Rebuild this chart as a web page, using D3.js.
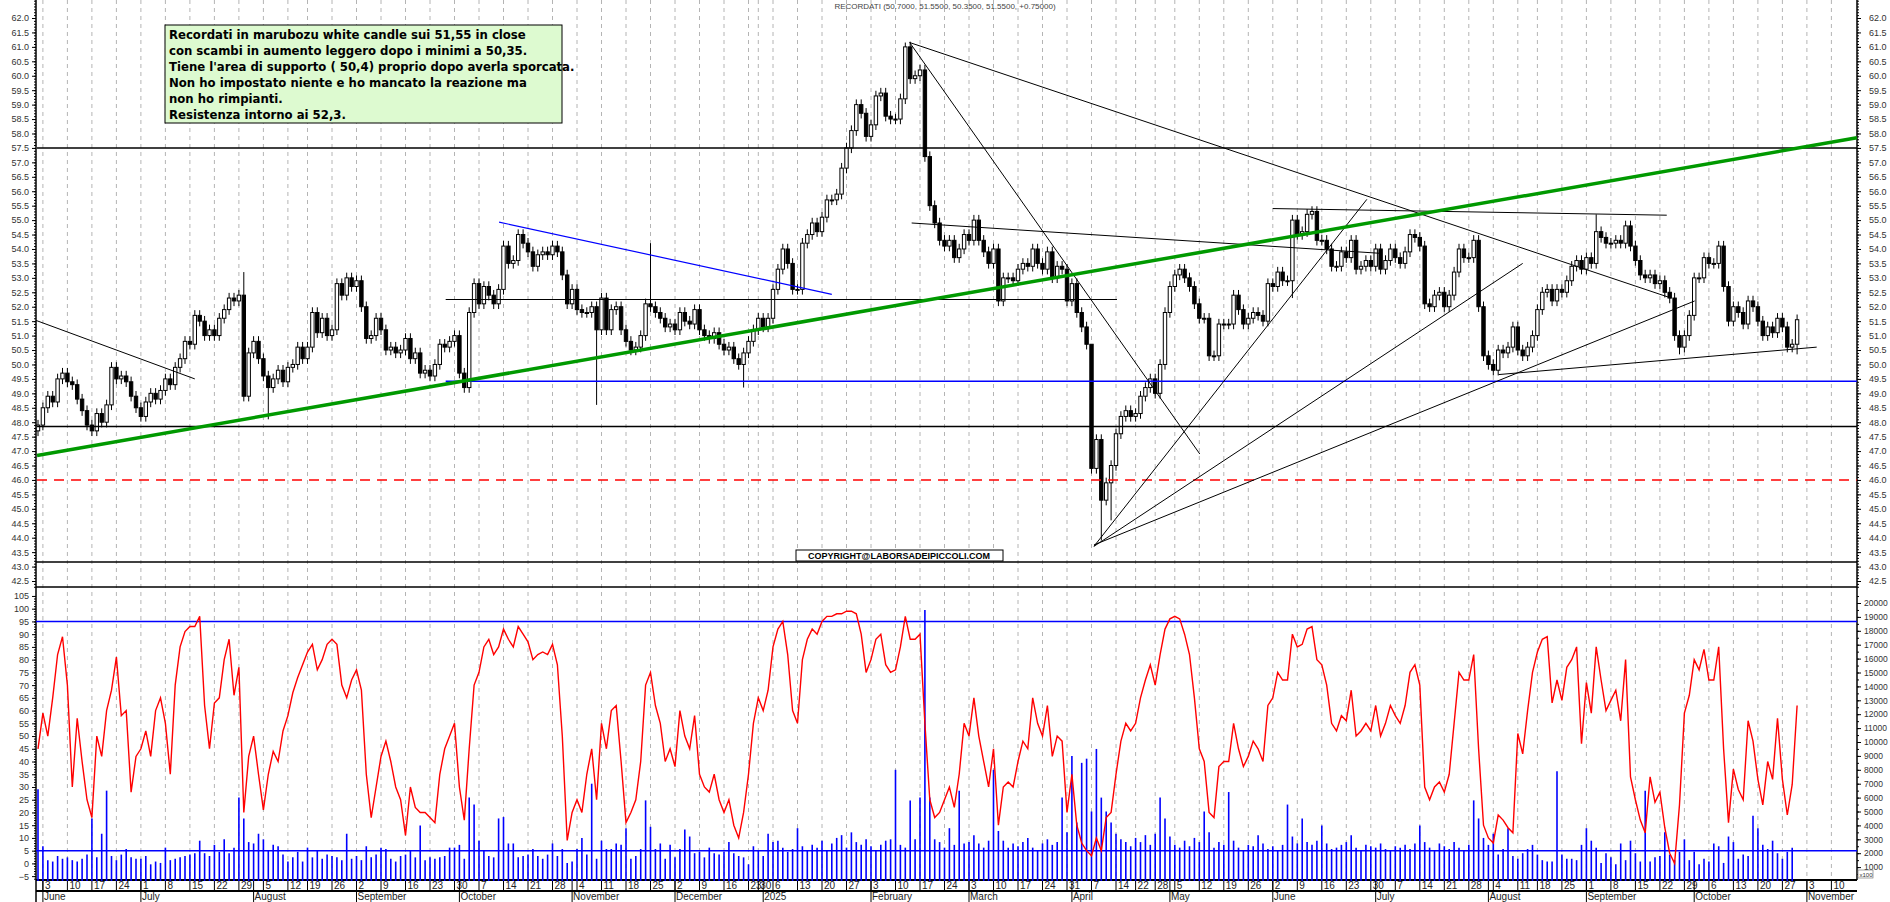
<!DOCTYPE html>
<html><head><meta charset="utf-8">
<script src="https://cdn.jsdelivr.net/npm/d3@7"></script>
<style>body{margin:0;background:#fff}svg{display:block}</style>
</head><body><svg id="c" width="1890" height="902"></svg>
<script>
// ---------- DATA ----------
const firstDate = "2024-05-31", lastAxisDate = "2025-11-14";
const holidays = ["2024-08-15","2024-12-24","2024-12-25","2024-12-26","2024-12-31","2025-01-01","2025-04-18","2025-04-21","2025-05-01","2025-08-15"];
const closes = [47.9,
48.5,48.9,48.7,49.5,49.7, 49.4,49.3,48.8,48.4,47.9, 47.7,48.3,48.0,48.6,49.9, 49.5,49.6,49.4,48.9,48.5,
48.2,48.7,49.0,48.8,49.1, 49.5,49.3,49.9,50.2,50.8, 50.7,51.7,51.5,51.0,51.2, 51.0,51.6,51.9,52.3,52.2,
52.4,48.9,50.4,50.8,50.2, 49.6,49.2,49.5,49.8,49.4, 49.9,50.0,50.6,50.2,50.6, 51.8,51.1,51.6,51.0,51.2,
52.8,52.4,53.0,52.7,52.9, 52.0,50.9,51.0,51.6,51.2, 50.5,50.6,50.4,50.5,50.9, 50.2,50.4,49.7,49.8,49.6,
50.0,50.7,50.6,50.8,51.0, 49.7,49.2,51.8,52.8,52.1, 52.7,52.4,52.1,52.6,54.1, 53.5,53.6,54.5,54.2,53.9,
53.4,53.8,53.9,53.8,54.1, 53.9,53.1,52.1,52.6,51.9, 51.8,51.8,52.0,51.2,52.3, 51.2,51.9,52.0,51.2,50.8,
50.5,50.6,51.0,52.1,52.0, 51.8,51.6,51.3,51.4,51.2, 51.8,51.5,51.4,51.9,51.2, 51.0,50.9,51.1,50.7,50.5,
50.6,50.2,50.0,50.4,50.8, 51.2,51.6,51.3,51.6,52.6, 53.3,54.0,53.5,52.6,52.6, 54.2,54.5,54.9,54.6,55.1,
55.7,55.7,55.9,56.8,57.5, 58.1,59.0,58.7,57.9,58.3, 59.3,59.4,58.6,58.5,58.5, 59.2,61.0,59.9,60.0,60.2,
57.2,55.5,54.9,54.3,54.1, 54.3,53.7,54.0,54.5,54.3, 55.0,54.3,53.9,53.5,54.0, 52.2,53.0,53.0,52.9,53.3,
53.5,53.4,54.0,53.5,53.3, 53.9,53.0,53.4,53.3,52.2, 52.8,51.8,51.3,50.7,46.4, 47.4,45.3,45.9,46.5,47.6,
48.2,48.4,48.2,48.3,48.9, 49.2,49.5,49.0,50.0,51.8, 52.7,53.1,53.3,53.0,52.7, 52.1,51.6,51.6,50.3,50.3,
51.4,51.4,51.4,52.4,51.9, 51.4,51.6,51.8,51.7,51.5, 52.8,52.7,53.2,52.9,52.9, 55.0,54.5,54.6,55.2,55.3,
54.3,54.3,54.0,53.4,53.4, 53.9,53.7,54.3,53.3,53.4, 53.6,53.4,54.0,53.3,53.6, 54.0,53.7,53.5,53.9,54.5,
54.4,54.1,52.1,52.0,52.4, 52.5,52.0,52.4,53.2,54.0, 53.7,53.7,54.3,52.0,50.3, 50.0,49.8,50.5,50.4,50.6,
51.3,50.5,50.3,50.6,51.0, 51.9,52.5,52.6,52.2,52.6, 52.5,52.9,53.4,53.6,53.3, 53.7,53.5,54.6,54.4,54.2,
54.2,54.3,54.2,54.8,54.1, 53.6,53.1,53.0,53.1,52.8, 52.9,52.5,52.3,51.0,50.6, 51.0,51.7,53.0,53.0,53.7,
53.5,53.5,54.1,52.7,51.5, 52.0,51.8,51.4,52.2,52.0, 51.5,51.0,51.3,51.1,51.6, 51.3,50.6,50.7,51.55];
// long shadows: [bar index (0 = 3 June 2024), high, low]
const shadows = [[41,53.2,null],[46,null,48.1],[113,null,48.6],[124,54.2,null],[143,null,49.2],[176,61.15,null],
 [214,49.6,null],[216,null,43.9],[218,null,44.6],[255,null,52.3],[317,55.2,null],[334,null,50.35],[358,null,50.35]];
const stoch = [45,59,50,65,82,89,70,30,57,40,25,18,50,42,60,68,81,58,60,28,42,45,52,42,60,65,55,35,70,85,91,93,93,97,62,45,63,65,80,88,66,77,20,42,50,35,21,35,44,40,52,58,67,73,
78,83,86,76,80,86,88, 86,70,65,72,76,68,35, 18,30,42,48,40,30,25, 11,30,22,20,20,18,16, 35,45,50,55,30,17,
45,70,75,85,88,82,85, 92,88,85,93,90,87,80, 82,83,82,86,78,50, 9,20,25,20,35,45,25, 55,45,60,62,40,16,
20,25,40,70,75,62,55, 40,45,38,60,50,45,58, 35,30,28,35,25,20,25, 15,10,20,35,55,65, 60,68,85,92,95,82,60,
55,80,88,92,90,95,97, 97,98,98,99,99,98,90, 75,80,88,90,78,75,76, 85,97,88,88,90,55,25, 18,20,25,30,22,35,55,
50,65,50,40,30,45,15, 30,32,30,40,48,45,65, 55,50,62,42,50,48,20, 35,15,8,5,3,10,5, 18,20,35,48,55,52,55,
65,72,78,70,82,92,96, 97,96,90,82,65,45,40, 20,18,38,40,40,55,45, 38,42,48,45,40,62,65, 75,72,72,90,85,86,92,
93,80,78,70,55,52,58, 56,68,50,52,55,52,62, 50,55,62,58,55,62,75, 78,70,30,25,30,32,28, 35,55,75,72,72,82,45,
15,10,8, 19,17,14,12,51,43,60,75,83,88,89,63,72,64,77,80,85,47,71,59,85,72,60,64,68,56,80,34,25,17,12,34,24,28,14,4,0,
23,59,66,80,76,84,72,72,85,45,16,37,29,25,56,48,33,23,40,33,57,33,19,31,62];
const volume = [6600,2500,1500,1400,1800,1600,1700,1500,1400,1600, 1900,4500,1700,3400,6500,1800,1500,1900,2300,1700,
1600,1600,1800,1200,1400,1300,2400,1500,1600,1700, 1800,1900,2000,2900,2000,1800,2600,2100,3000,2000,
2400,6000,4500,2800,2700,3400,3000,2200,2600,2500, 1900,1400,1700,2100,1400,2400,1700,2200,1600,1900,
1800,1700,1500,3400,1600,1800,1500,2500,1700,1900, 2400,2300,1600,1400,1800,1900,2200,1700,4000,1500,
1700,1600,1700,1800,2400,2400,2600,1600,6000,5500, 2900,2200,1800,1700,4500,4600,2700,2700,1700,1800,
1900,2300,1800,1600,1900,2700,1800,2300,1300,1400, 2300,3100,1900,7000,1600,2900,2300,2300,2700,2600,
3800,1600,1800,2300,5800,3900,2300,2700,1600,2600, 1700,2300,3700,3200,2000,2100,1700,2400,2000,1900,
2100,2800,2000,1800,1700,1200,2500,2200,1800,3400, 2800,2900,2400,2100,2300,3800,2500,2200,2600,2400,
2900,2200,2700,3100,3300,2400,3500,2800,2600,3000, 2500,2200,2600,2900,3000,8000,2600,2400,5800,3000,
6000,19500,6000,3000,2800,2400,3800,2600,6500,2700, 2800,3300,2700,2400,2900,8000,3600,2900,2400,2700,
2500,2800,3100,2400,2200,2700,3000,2600,2800,6000, 3500,9000,4200,8500,8800,5000,9500,6000,5000,4200,
3400,3000,2800,2500,3100,2800,3300,2600,3400,6000, 4500,3200,2600,2400,2900,2500,3100,2800,5000,3500,
2400,2800,2600,6400,2900,2400,2200,2600,2500,3300, 2700,2300,2500,2200,2600,5500,3200,2700,4500,2800,
2600,2900,4000,2700,2300,2400,2600,2800,3300,2400, 2200,2600,2500,2400,2700,2300,2200,2500,2400,2600,
2300,2700,4000,2800,2400,2200,2700,2500,2300,2800, 2400,2200,2600,5800,4500,3100,2600,
3400,1900,2300,3800,1800,1600,2000,2300,2600,1900,1500,1400,1400,7900,1900,1600,1600,1500,2600,3800,2900,2400,1300,2000,1700,1200,2700,1500,2900,2000,1400,6500,1400,1700,1800,3500,1900,1500,2100,3000,1500,2100,1200,1600,1400,2700,2500,1300,3200,2800,1600,1900,1800,4700,3800,2600,2300,2900,2000,1600,2100,2400];
// trend lines: [bar index, price] pairs (bar index 0 = 3 June 2024)
const trendLines = [
 {c:"#000",w:1,p:[[-2.6,51.6],[31,49.5]]},
 {c:"#000",w:1.5,p:[[-1.2,57.5],[370.2,57.5]]},
 {c:"#000",w:1.5,p:[[-1.2,47.85],[370.2,47.85]]},
 {c:"#ff0000",w:1.5,d:"10,7",p:[[-1.2,46.0],[370.2,46.0]]},
 {c:"#0000ff",w:1.5,p:[[82.2,49.42],[370.2,49.42]]},
 {c:"#0000ff",w:1.2,p:[[93.1,54.93],[161,52.43]]},
 {c:"#000",w:1.2,p:[[82.2,52.25],[219.2,52.25]]},
 {c:"#000",w:1,p:[[176.9,61.15],[332.3,52.3]]},
 {c:"#000",w:1,p:[[176.9,61.15],[236.1,46.9]]},
 {c:"#000",w:1,p:[[214.5,43.7],[270.2,55.72]]},
 {c:"#000",w:1,p:[[214.5,43.7],[302.0,53.5]]},
 {c:"#000",w:1,p:[[214.5,43.75],[337.1,52.2]]},
 {c:"#000",w:1,p:[[177.3,54.9],[272.9,53.85]]},
 {c:"#000",w:1,p:[[251.0,55.4],[331.4,55.17]]},
 {c:"#000",w:1,p:[[297.1,49.65],[362.0,50.6]]},
 {c:"#009900",w:3.5,p:[[-1.2,46.85],[370.2,57.85]]}
];
const noteLines = ["Recordati in marubozu white candle sui 51,55 in close",
"con scambi in aumento leggero dopo i minimi a 50,35.",
"Tiene l'area di supporto ( 50,4) proprio dopo averla sporcata.",
"Non ho impostato niente e ho mancato la reazione ma",
"non ho rimpianti.",
"Resistenza intorno ai 52,3."];
const title = "RECORDATI (50.7000, 51.5500, 50.3500, 51.5500, +0.75000)";
const copyright = "COPYRIGHT@LABORSADEIPICCOLI.COM";
const monthNames = ["January","February","March","April","May","June","July","August","September","October","November","December"];

// ---------- DATES ----------
const fmt = d3.timeFormat("%Y-%m-%d");
const dates = [];
for (let d = new Date(firstDate+"T12:00:00"); fmt(d) <= lastAxisDate; d.setDate(d.getDate()+1)) {
  const wd = d.getDay();
  if (wd===0||wd===6||holidays.includes(fmt(d))) continue;
  dates.push(new Date(d));
}
// ---------- SCALES ----------
const L = 36, R = 1857;
const x = d3.scaleLinear().domain([-1, 0]).range([38, 42.9]); // bar index -> px
const y = d3.scaleLinear().domain([42.5, 62]).range([581, 18]);
const ys = d3.scaleLinear().domain([0, 100]).range([863.4, 608.7]);
const yv = d3.scaleLinear().domain([0, 20000]).range([881, 603]);
const svg = d3.select("#c");
const fontAxis = "Arial, 'Liberation Sans', sans-serif";

const weekStarts = [], monthStarts = [];
dates.forEach((d,i)=>{
  const p = dates[i-1];
  if (!p) return;
  if (d.getDay() <= p.getDay() || (d - p) > 4*864e5) weekStarts.push(i-1);
  if (d.getMonth() !== p.getMonth()) monthStarts.push(i-1);
});
const dateOf = i => dates[i+1];
const inPlot = i => x(i)>L+2 && x(i)<R-2;
svg.append("g").selectAll("line").data(weekStarts.filter(inPlot)).join("line")
  .attr("x1",i=>x(i)).attr("x2",i=>x(i)).attr("y1",0).attr("y2",880)
  .attr("stroke","#b4b4b4").attr("stroke-dasharray","4,4");

const fr = svg.append("g").attr("stroke","#000");
fr.append("line").attr("x1",L).attr("x2",L).attr("y1",0).attr("y2",902).attr("stroke-width",1.5);
fr.append("line").attr("x1",R).attr("x2",R).attr("y1",0).attr("y2",880).attr("stroke-width",1.5);
[562,587].forEach(v=>fr.append("line").attr("x1",L).attr("x2",R).attr("y1",v).attr("y2",v).attr("stroke-width",1.5));
fr.append("line").attr("x1",L).attr("x2",R).attr("y1",880).attr("y2",880).attr("stroke-width",2);
fr.append("line").attr("x1",L).attr("x2",R).attr("y1",891).attr("y2",891).attr("stroke-width",2);

function styleAxis(g){ g.select(".domain").remove(); g.selectAll("text").attr("font-family",fontAxis).attr("font-size",9).attr("fill","#333"); g.selectAll("line").attr("stroke","#000"); }
const pMajor = d3.range(42.5, 62.01, 0.5), pMinor = d3.range(42.3, 62.9, 0.1);
svg.append("g").attr("transform",`translate(${L},0)`).call(d3.axisLeft(y).tickValues(pMinor).tickSize(2).tickFormat("")).call(styleAxis);
svg.append("g").attr("transform",`translate(${L},0)`).call(d3.axisLeft(y).tickValues(pMajor).tickSize(4).tickFormat(d3.format(".1f")).tickPadding(3)).call(styleAxis);
svg.append("g").attr("transform",`translate(${R},0)`).call(d3.axisRight(y).tickValues(pMinor.filter(v=>v<62.8)).tickSize(2).tickFormat("")).call(styleAxis);
svg.append("g").attr("transform",`translate(${R},0)`).call(d3.axisRight(y).tickValues(pMajor).tickSize(4).tickFormat(d3.format(".1f")).tickPadding(8)).call(styleAxis);
svg.append("g").attr("transform",`translate(${L},0)`).call(d3.axisLeft(ys).tickValues(d3.range(-5,106,5)).tickSize(4).tickPadding(3)).call(styleAxis);
svg.append("g").attr("transform",`translate(${L},0)`).call(d3.axisLeft(ys).tickValues(d3.range(-6,106,1)).tickSize(2).tickFormat("")).call(styleAxis);
svg.append("g").attr("transform",`translate(${R},0)`).call(d3.axisRight(yv).tickValues(d3.range(1000,20001,1000)).tickSize(4).tickPadding(3).tickFormat(d=>String(d))).call(g=>{styleAxis(g); g.selectAll("text").attr("font-size",8.5);});
svg.append("g").attr("transform",`translate(${R},0)`).call(d3.axisRight(yv).tickValues(d3.range(500,20600,500)).tickSize(2).tickFormat("")).call(styleAxis);
svg.append("rect").attr("x",1858).attr("y",870).attr("width",15).attr("height",8).attr("fill","#fff").attr("stroke","#666").attr("stroke-width",0.6);
svg.append("text").attr("x",1859.5).attr("y",876.5).text("x100").attr("font-size",6).attr("font-family",fontAxis).attr("fill","#333");

const dr = svg.append("g").attr("font-family",fontAxis).attr("font-size",10).attr("fill","#222");
weekStarts.filter(inPlot).forEach(i=>{
  dr.append("line").attr("x1",x(i)).attr("x2",x(i)).attr("y1",880).attr("y2",891).attr("stroke","#000");
  dr.append("text").attr("x",x(i)+2).attr("y",889).text(dateOf(i).getDate());
});
monthStarts.filter(inPlot).forEach(i=>{
  const d = dateOf(i);
  dr.append("line").attr("x1",x(i)).attr("x2",x(i)).attr("y1",880).attr("y2",902).attr("stroke","#000");
  dr.append("text").attr("x",x(i)+1).attr("y",900).text(d.getMonth()===0 ? d.getFullYear() : monthNames[d.getMonth()]);
});

const N = closes.length;
svg.append("g").selectAll("line").data(volume.slice(0,N)).join("line")
  .attr("x1",(v,i)=>x(i-1)).attr("x2",(v,i)=>x(i-1)).attr("y1",yv(0)).attr("y2",v=>yv(v))
  .attr("stroke","#0000ff").attr("stroke-width",1.6);
[95,5].forEach(v=>svg.append("line").attr("x1",L).attr("x2",R).attr("y1",ys(v)).attr("y2",ys(v)).attr("stroke","#0000ff").attr("stroke-width",1.5));
svg.append("path").datum(stoch.slice(0,N)).attr("fill","none").attr("stroke","#ff0000").attr("stroke-width",1.4)
  .attr("d", d3.line().x((v,i)=>x(i-1)).y(v=>ys(v)));

const bars = closes.map((c,i)=>{
  const idx=i-1, o = i>0 ? closes[i-1] : c-0.2;
  let hi=Math.max(o,c)+0.18, lo=Math.min(o,c)-0.18;
  const s = shadows.find(s=>s[0]===idx);
  if (s){ if(s[1]!=null) hi=s[1]; if(s[2]!=null) lo=s[2]; }
  return {idx,o,c,hi,lo};
});
const cg = svg.append("g");
cg.selectAll("line").data(bars).join("line")
  .attr("x1",d=>x(d.idx)).attr("x2",d=>x(d.idx)).attr("y1",d=>y(d.hi)).attr("y2",d=>y(d.lo)).attr("stroke","#000");
cg.selectAll("rect").data(bars).join("rect")
  .attr("x",d=>x(d.idx)-1.7).attr("width",3.4)
  .attr("y",d=>y(Math.max(d.o,d.c))).attr("height",d=>Math.max(1,Math.abs(y(d.o)-y(d.c))))
  .attr("fill",d=>d.c>=d.o?"#fff":"#000").attr("stroke","#000").attr("stroke-width",1);

svg.append("g").selectAll("line").data(trendLines).join("line")
  .attr("x1",t=>Math.max(L,x(t.p[0][0]))).attr("y1",t=>y(t.p[0][1]+(t.p[1][1]-t.p[0][1])*(Math.max(L,x(t.p[0][0]))-x(t.p[0][0]))/(x(t.p[1][0])-x(t.p[0][0]))))
  .attr("x2",t=>Math.min(R,x(t.p[1][0]))).attr("y2",t=>y(t.p[1][1]))
  .attr("stroke",t=>t.c).attr("stroke-width",t=>t.w).attr("stroke-dasharray",t=>t.d||null);

const nb = svg.append("g");
nb.append("rect").attr("x",165).attr("y",25).attr("width",397).attr("height",98).attr("fill","#ddfad0").attr("stroke","#000");
nb.selectAll("text").data(noteLines).join("text").attr("x",169).attr("y",(d,i)=>39+i*16).text(d=>d)
  .attr("font-family","'Liberation Sans Narrow','DejaVu Sans Condensed','Arial Narrow',sans-serif").attr("font-weight","bold").attr("font-size",13).attr("fill","#000");
svg.append("text").attr("x",945).attr("y",9).attr("text-anchor","middle").text(title).attr("font-family",fontAxis).attr("font-size",8).attr("fill","#444");
svg.append("rect").attr("x",796).attr("y",550).attr("width",207).attr("height",11).attr("fill","#fff").attr("stroke","#000");
svg.append("text").attr("x",899).attr("y",559).attr("text-anchor","middle").text(copyright).attr("font-family",fontAxis).attr("font-weight","bold").attr("font-size",9).attr("fill","#000");
</script></body></html>
